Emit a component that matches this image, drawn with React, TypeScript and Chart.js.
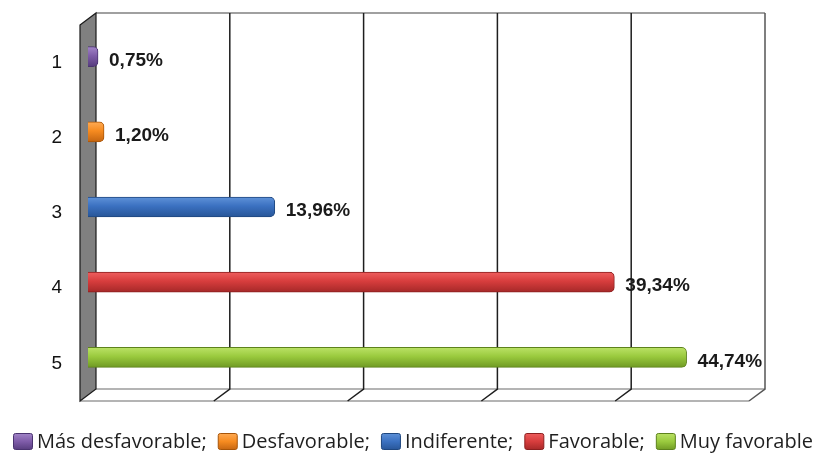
import { useEffect, useRef } from "react";
import { Chart, registerables } from "chart.js";

Chart.register(...registerables);

const categories = ["1", "2", "3", "4", "5"];
const values = [0.75, 1.2, 13.96, 39.34, 44.74];
const valueLabels = ["0,75%", "1,20%", "13,96%", "39,34%", "44,74%"];
const legendNames = ["Más desfavorable", "Desfavorable", "Indiferente", "Favorable", "Muy favorable"];
const xMin = 0;
const xMax = 50;
const xStep = 10;

const barColors = [
  { light: "#a286c8", mid: "#7f5ca9", dark: "#563c7d", edge: "#4a3370" },
  { light: "#ffab55", mid: "#f68b20", dark: "#c46511", edge: "#a85508" },
  { light: "#5f92d8", mid: "#3b71c1", dark: "#275597", edge: "#1f477f" },
  { light: "#ee5e5e", mid: "#d73d3d", dark: "#a52828", edge: "#8c1f1f" },
  { light: "#bbe266", mid: "#9aca3e", dark: "#6f9a23", edge: "#5d821c" },
];

const DX = 8;
const DY = 6;

const depthPlugin = {
  id: "depth3d",
  beforeDatasetsDraw(chart: any) {
    const { ctx, chartArea } = chart;
    const x = chart.scales.x;
    const { left, right, top, bottom } = chartArea;
    ctx.save();
    // floor
    ctx.beginPath();
    ctx.moveTo(left - DX, bottom + DY);
    ctx.lineTo(right - DX, bottom + DY);
    ctx.lineTo(right + DX, bottom - DY);
    ctx.lineTo(left + DX, bottom - DY);
    ctx.closePath();
    ctx.fillStyle = "#ffffff";
    ctx.fill();
    ctx.strokeStyle = "#b4b4b4";
    ctx.lineWidth = 2;
    ctx.beginPath();
    ctx.moveTo(left - DX, bottom + DY);
    ctx.lineTo(right - DX, bottom + DY);
    ctx.moveTo(left + DX, bottom - DY);
    ctx.lineTo(right + DX, bottom - DY);
    ctx.stroke();
    // back top edge
    ctx.beginPath();
    ctx.moveTo(left + DX, top - DY);
    ctx.lineTo(right + DX, top - DY);
    ctx.strokeStyle = "#a0a0a0";
    ctx.lineWidth = 2;
    ctx.stroke();
    // gridlines on back wall and floor
    x.ticks.forEach((t: any, i: number) => {
      const px = x.getPixelForValue(t.value);
      if (i === 0) return;
      const last = i === x.ticks.length - 1;
      ctx.beginPath();
      ctx.moveTo(px + DX, top - DY);
      ctx.lineTo(px + DX, bottom - DY);
      ctx.lineTo(px - DX, bottom + DY);
      ctx.strokeStyle = last ? "#555555" : "#1e1e1e";
      ctx.lineWidth = 1.5;
      ctx.stroke();
    });
    // side wall
    ctx.beginPath();
    ctx.moveTo(left - DX, top + DY);
    ctx.lineTo(left + DX, top - DY);
    ctx.lineTo(left + DX, bottom - DY);
    ctx.lineTo(left - DX, bottom + DY);
    ctx.closePath();
    ctx.fillStyle = "#808080";
    ctx.fill();
    ctx.strokeStyle = "#1a1a1a";
    ctx.lineWidth = 1.2;
    ctx.stroke();
    ctx.restore();
  },
  afterDatasetsDraw(chart: any) {
    const { ctx } = chart;
    const meta = chart.getDatasetMeta(0);
    ctx.save();
    ctx.font = "bold 19px 'Liberation Sans', Arial, sans-serif";
    ctx.fillStyle = "#1a1a1a";
    ctx.textAlign = "left";
    ctx.textBaseline = "middle";
    meta.data.forEach((el: any, i: number) => {
      ctx.fillText(valueLabels[i], el.x + 11, el.y + 4);
    });
    ctx.restore();
  },
  afterDraw(chart: any) {
    const { ctx, chartArea } = chart;
    ctx.save();
    ctx.font = "20px 'Open Sans', sans-serif";
    ctx.textBaseline = "alphabetic";
    ctx.textAlign = "left";
    const boxTop = chartArea.bottom + 38;
    const boxW = 20;
    const boxH = 17;
    let cx = 13;
    legendNames.forEach((name, i) => {
      const c = barColors[i];
      const g = ctx.createLinearGradient(0, boxTop, 0, boxTop + boxH);
      g.addColorStop(0, c.light);
      g.addColorStop(0.5, c.mid);
      g.addColorStop(1, c.dark);
      ctx.beginPath();
      ctx.roundRect(cx + 0.5, boxTop + 0.5, boxW - 1, boxH - 1, 2);
      ctx.fillStyle = g;
      ctx.fill();
      ctx.strokeStyle = c.edge;
      ctx.lineWidth = 1;
      ctx.stroke();
      const text = i < legendNames.length - 1 ? name + ";" : name;
      ctx.fillStyle = "#1f1f1f";
      ctx.fillText(text, cx + boxW + 4, boxTop + 15);
      cx += boxW + 4 + ctx.measureText(text).width + 11;
    });
    ctx.restore();
  },
};

export default function App() {
  const ref = useRef<HTMLCanvasElement>(null);
  useEffect(() => {
    if (!ref.current) return;
    const chart = new Chart(ref.current, {
      type: "bar",
      data: {
        labels: categories,
        datasets: [
          {
            data: values,
            barThickness: 20,
            borderRadius: 5,
            borderSkipped: "start",
            borderWidth: 1,
            borderColor: barColors.map((c) => c.edge),
            backgroundColor: (context: any) => {
              const c = barColors[context.dataIndex] || barColors[0];
              const chart = context.chart;
              const y = chart.scales && chart.scales.y;
              if (!y || !chart.chartArea || context.type !== "data") return c.mid;
              const cy = y.getPixelForValue(context.dataIndex);
              const g = chart.ctx.createLinearGradient(0, cy - 10, 0, cy + 10);
              g.addColorStop(0, c.light);
              g.addColorStop(0.45, c.mid);
              g.addColorStop(1, c.dark);
              return g;
            },
          },
        ],
      },
      options: {
        indexAxis: "y",
        animation: false,
        responsive: false,
        layout: { padding: { top: 19, right: 62, bottom: 58, left: 0 } },
        plugins: { legend: { display: false }, tooltip: { enabled: false } },
        scales: {
          x: {
            display: false,
            min: xMin,
            max: xMax,
            ticks: { stepSize: xStep },
          },
          y: {
            type: "category",
            grid: { display: false, drawTicks: false },
            border: { display: false },
            afterFit: (s: any) => {
              s.width = 88;
              s.paddingTop = 0;
              s.paddingBottom = 0;
            },
            ticks: {
              color: "#111111",
              font: { family: "'Liberation Sans', Arial, sans-serif", size: 19 },
              padding: 26,
              labelOffset: 6,
            },
          },
        },
      },
      plugins: [depthPlugin],
    });
    return () => chart.destroy();
  }, []);
  return (
    <div style={{ position: "fixed", left: 0, top: 0, width: 819, height: 453, background: "#ffffff" }}>
      <canvas ref={ref} width={819} height={453} />
    </div>
  );
}
